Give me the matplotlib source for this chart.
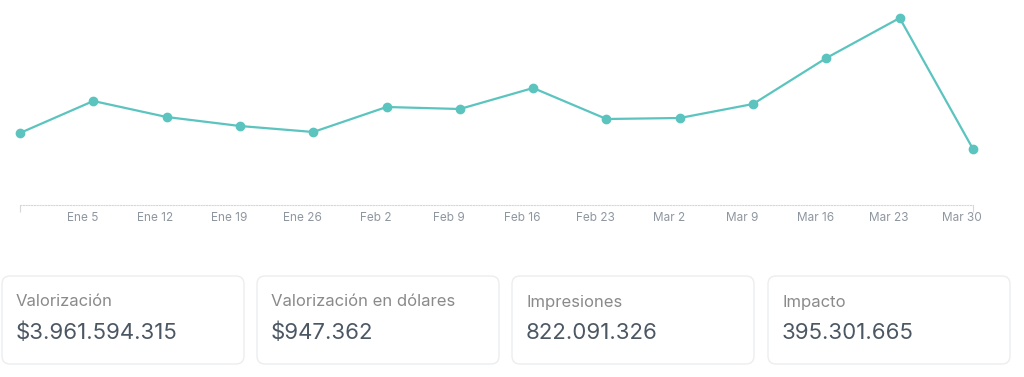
import matplotlib.pyplot as plt
from matplotlib.patches import FancyBboxPatch
from matplotlib.transforms import offset_copy

# weekly series (first week has no label)
weeks = ["Dic 29", "Ene 5", "Ene 12", "Ene 19", "Ene 26", "Feb 2", "Feb 9",
         "Feb 16", "Feb 23", "Mar 2", "Mar 9", "Mar 16", "Mar 23", "Mar 30"]
values = [72, 104, 88, 79, 73, 98, 96, 117, 86, 87, 101, 147, 187, 56]

card_titles = ["Valorización", "Valorización en dólares", "Impresiones", "Impacto"]
card_values = ["$3.961.594.315", "$947.362", "822.091.326", "395.301.665"]

W, H = 1024, 377
plt.rcParams['font.family'] = ['Inter', 'DejaVu Sans']
teal = "#5bc4bf"
tick_gray = "#8e96a0"

fig = plt.figure(figsize=(W / 100, H / 100), dpi=100)

# line chart
ax = fig.add_axes([20 / W, 1 - 205 / H, (973 - 20) / W, 205 / H])
x = list(range(len(values)))
ax.plot(x, values, color=teal, lw=1.6, marker="o", ms=6, mec=teal, mfc=teal,
        zorder=3, clip_on=False)
ax.set_xlim(0, len(values) - 1)
ax.set_ylim(0, 205)
for s in ["top", "right", "left"]:
    ax.spines[s].set_visible(False)
ax.spines["bottom"].set_color("#d4d7db")
ax.spines["bottom"].set_linestyle((0, (1, 1.5)))
ax.spines["bottom"].set_linewidth(0.8)
ax.set_yticks([])
ax.set_xticks([0, len(values) - 1])
ax.tick_params(axis="x", length=5, width=0.8, color="#d4d7db", labelbottom=False)
for i in range(1, len(weeks)):
    ax.text(i, -13, weeks[i], transform=offset_copy(ax.transData, fig=fig, x=-11, y=0, units="dots"),
            ha="center", va="center", fontsize=8.5, color=tick_gray, clip_on=False)

# stat cards
ov = fig.add_axes([0, 0, 1, 1])
ov.set_xlim(0, W)
ov.set_ylim(H, 0)
ov.axis("off")
card_x = [2, 257, 512, 768]
card_w = 242
for cx, t, v in zip(card_x, card_titles, card_values):
    ov.add_patch(FancyBboxPatch((cx, 276), card_w, 88,
                                boxstyle="round,pad=0,rounding_size=8",
                                fc="white", ec="#ebedef", lw=1))
    ov.text(cx + 14, 302, t, fontsize=12, color="#8a8a8a", va="center", ha="left")
    ov.text(cx + 14, 333, v, fontsize=16, color="#4b5763", va="center", ha="left")

fig.savefig("out.png", dpi=100)
